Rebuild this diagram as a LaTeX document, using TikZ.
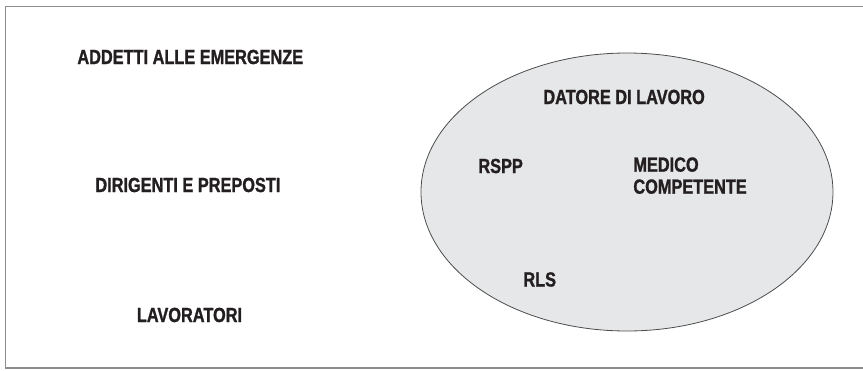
\documentclass[tikz,border=0pt]{standalone}
\usepackage{fontspec}
\newfontfamily\ruolofont{Liberation Sans Bold}[FakeStretch=0.8, FakeBold=1.2]
\usetikzlibrary{shapes.geometric}
\definecolor{inchiostro}{HTML}{231F20}
\definecolor{cornice}{HTML}{8C8C8C}
\definecolor{sfondo}{HTML}{E6E7E8}
\tikzset{
  ruolo/.style={anchor=base west, inner sep=0pt, text=inchiostro,
    font=\fontsize{10.2}{11}\selectfont\ruolofont}
}

\begin{document}
\begin{tikzpicture}[x=0.5pt,y=-0.5pt]
      \useasboundingbox (0,0) rectangle (863,370);
      \draw[cornice, line width=0.8pt] (863,6.5) -- (5.5,6.5) -- (5.5,368) -- (863,368);
      \node[ellipse, draw=black!70, fill=sfondo, line width=0.4pt,
            minimum width=206pt, minimum height=139pt, inner sep=0pt] (azienda) at (627,192) {};
      \node[ruolo] (addetti) at (77,64) {ADDETTI ALLE EMERGENZE};
      \node[ruolo] (dirigenti) at (95,192) {DIRIGENTI E PREPOSTI};
      \node[ruolo] (lavoratori) at (136.5,322) {LAVORATORI};
      \node[ruolo] (datore) at (543,104) {DATORE DI LAVORO};
      \node[ruolo] (rspp) at (478,173) {RSPP};
      \node[ruolo, anchor=north west, align=left] (medico) at (633,157) {MEDICO\\COMPETENTE};
      \node[ruolo] (rls) at (523,286.5) {RLS};
     \end{tikzpicture}
\end{document}
